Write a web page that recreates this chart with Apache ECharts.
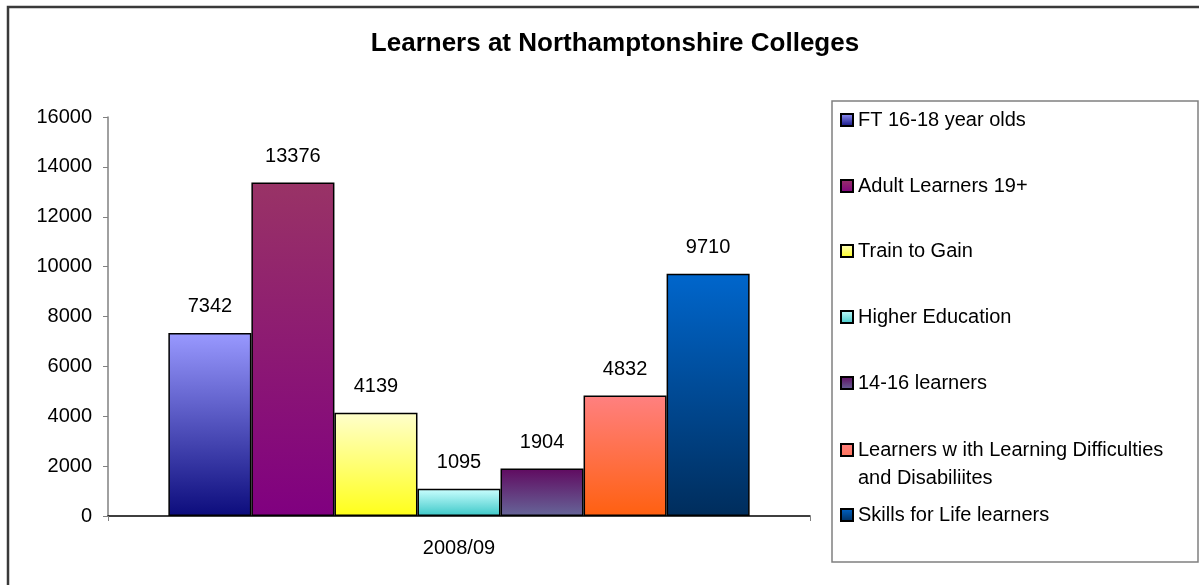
<!DOCTYPE html>
<html>
<head>
<meta charset="utf-8">
<script src="https://cdn.jsdelivr.net/npm/echarts@6/dist/echarts.min.js"></script>
<style>
html,body{margin:0;padding:0;background:#fff;}
#chart{width:1199px;height:585px;}
</style>
</head>
<body>
<div id="chart"></div>
<script>
const categories = ['2008/09'];
const seriesNames = [
  'FT 16-18 year olds',
  'Adult Learners 19+',
  'Train to Gain',
  'Higher Education',
  '14-16 learners',
  'Learners w ith Learning Difficulties\nand Disabiliites',
  'Skills for Life learners'
];
const seriesValues = [7342, 13376, 4139, 1095, 1904, 4832, 9710];
const yTicks = [0, 2000, 4000, 6000, 8000, 10000, 12000, 14000, 16000];

const gradients = [
  ['#9999ff', '#0c0c7c'],
  ['#993366', '#800080'],
  ['#ffffcc', '#ffff1a'],
  ['#ccffff', '#3cc8c8'],
  ['#600a60', '#666699'],
  ['#ff8080', '#ff6010'],
  ['#0066cc', '#002d5c']
];
const legendCenters = [120, 186, 251, 317, 383, 449, 515];

const FONT = '"Liberation Sans", Arial, sans-serif';
const FS = 20;

function grad(c) {
  return new echarts.graphic.LinearGradient(0, 0, 0, 1, [
    {offset: 0, color: c[0]},
    {offset: 1, color: c[1]}
  ]);
}

const series = seriesNames.map((name, i) => ({
  name: name,
  type: 'bar',
  barGap: '0%',
  barCategoryGap: '17.2%',
  data: [seriesValues[i]],
  itemStyle: {color: grad(gradients[i]), borderColor: '#000', borderWidth: 1.5},
  label: {
    show: true, position: 'top', distance: 16,
    color: '#000', fontFamily: FONT, fontSize: FS
  }
}));

const legends = seriesNames.map((name, i) => {
  const twoLine = name.indexOf('\n') >= 0;
  if (twoLine) {
    return {
      data: [name],
      orient: 'vertical',
      left: 840,
      top: legendCenters[i] - 13,
      padding: 0,
      icon: 'path://M0,0 L12,0 L12,12 L0,12 Z M0,40',
      itemWidth: 12,
      itemHeight: 40,
      selectedMode: false,
      textStyle: {fontFamily: FONT, fontSize: FS, color: '#000', lineHeight: 28}
    };
  }
  return {
    data: [name],
    orient: 'vertical',
    left: 840,
    top: legendCenters[i] - 10,
    padding: 0,
    icon: 'rect',
    itemWidth: 12,
    itemHeight: 12,
    selectedMode: false,
    textStyle: {fontFamily: FONT, fontSize: FS, color: '#000'}
  };
});

const chart = echarts.init(document.getElementById('chart'), null, {renderer: 'canvas'});
chart.setOption({
  animation: false,
  backgroundColor: '#fff',
  title: {
    text: 'Learners at Northamptonshire Colleges',
    left: 610, textAlign: 'center', top: 26,
    textStyle: {fontFamily: FONT, fontSize: 26, fontWeight: 'bold', color: '#000'}
  },
  graphic: [
    {type: 'rect', shape: {x: 8, y: 7, width: 1300, height: 700},
     style: {fill: 'none', stroke: '#3a3a3a', lineWidth: 2.5}, silent: true},
    {type: 'rect', shape: {x: 832, y: 101, width: 366, height: 461},
     style: {fill: 'none', stroke: '#808080', lineWidth: 1.5}, silent: true, z: -1}
  ],
  legend: legends,
  grid: {left: 108, right: 389, top: 117, bottom: 69, containLabel: false},
  xAxis: {
    type: 'category',
    data: categories,
    axisLine: {lineStyle: {color: '#000', width: 1.5}},
    axisTick: {show: true, length: 5, lineStyle: {color: '#808080'}},
    axisLabel: {fontFamily: FONT, fontSize: FS, color: '#000', margin: 22}
  },
  yAxis: {
    type: 'value',
    min: yTicks[0], max: yTicks[yTicks.length - 1], interval: 2000,
    axisLine: {show: true, lineStyle: {color: '#808080', width: 1.5}},
    axisTick: {show: true, length: 5, lineStyle: {color: '#808080'}},
    splitLine: {show: false},
    axisLabel: {fontFamily: FONT, fontSize: FS, color: '#000', margin: 16,
      formatter: function (v) { return String(v); }}
  },
  series: series
});
</script>
</body>
</html>
